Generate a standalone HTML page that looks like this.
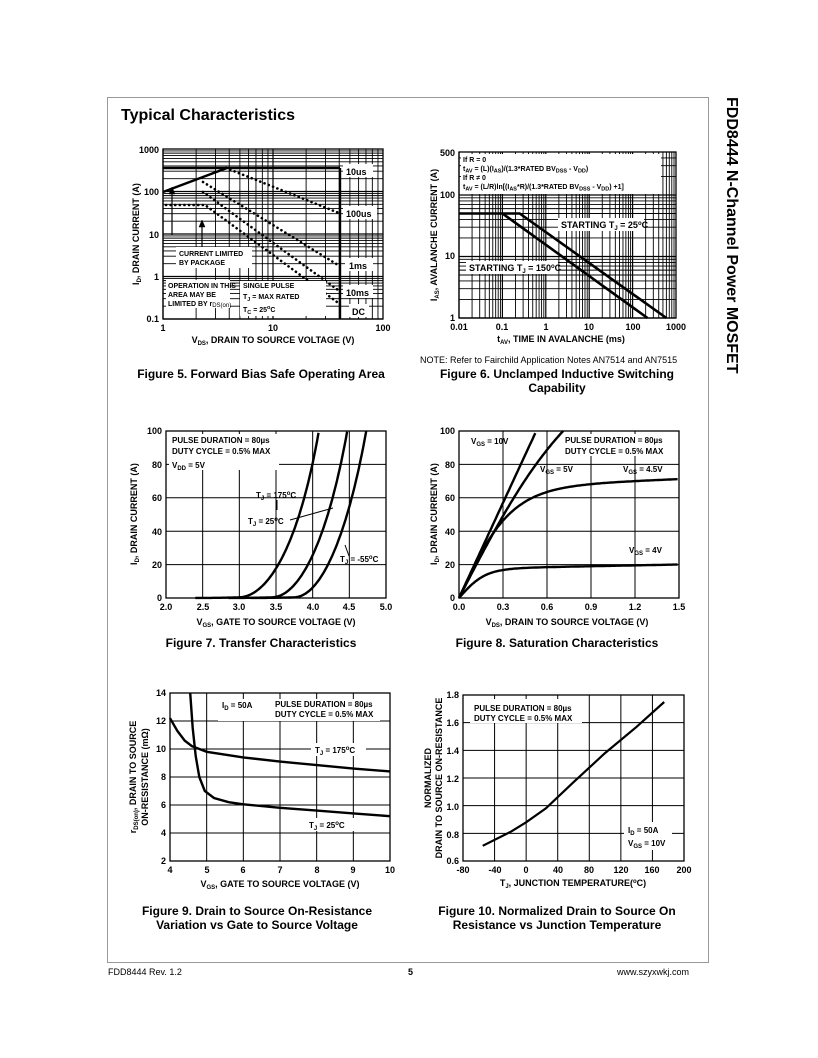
<!DOCTYPE html>
<html><head><meta charset="utf-8">
<style>
html,body{margin:0;padding:0;background:#fff;}
svg{display:block;font-family:"Liberation Sans",Arial,sans-serif;}
.t{font-size:9px;font-weight:bold;}
.s{font-size:8px;font-weight:bold;}
.xs{font-size:7px;font-weight:bold;}
.cap{font-size:12px;font-weight:bold;}
</style></head><body>
<svg id="svg" width="818" height="1058" viewBox="0 0 818 1058" xmlns="http://www.w3.org/2000/svg">
<rect x="107.5" y="97.5" width="601" height="865" fill="none" stroke="#999" stroke-width="1"/>
<text x="727" y="97" transform="rotate(90 727 97)" font-size="16" font-weight="bold" dy="0">FDD8444 N-Channel Power MOSFET</text>
<text x="121" y="120" font-size="16" font-weight="bold">Typical Characteristics</text>

<g id="grid" stroke="#000" fill="none"></g>
<g id="curves" stroke="#000" fill="none"></g>

<!-- Fig5 labels -->
<g class="t" text-anchor="end">
<text x="159" y="153">1000</text><text x="159" y="195">100</text><text x="159" y="238">10</text>
<text x="159" y="280">1</text><text x="159" y="322">0.1</text>
</g>
<g class="t" text-anchor="middle">
<text x="163" y="331">1</text><text x="273" y="331">10</text><text x="383" y="331">100</text>
</g>
<text class="t" x="273" y="343" text-anchor="middle">V<tspan font-size="6" dy="2">DS</tspan><tspan dy="-2">, DRAIN TO SOURCE VOLTAGE (V)</tspan></text>
<text class="t" x="139" y="234" text-anchor="middle" transform="rotate(-90 139 234)">I<tspan font-size="6" dy="2">D</tspan><tspan dy="-2">, DRAIN CURRENT (A)</tspan></text>
<text class="cap" x="261" y="378" text-anchor="middle">Figure 5.  Forward Bias Safe Operating Area</text>

<!-- Fig6 labels -->
<g class="t" text-anchor="end">
<text x="455" y="156">500</text><text x="455" y="198">100</text><text x="455" y="259">10</text><text x="455" y="321">1</text>
</g>
<g class="t" text-anchor="middle">
<text x="459" y="330">0.01</text><text x="502" y="330">0.1</text><text x="546" y="330">1</text>
<text x="589" y="330">10</text><text x="633" y="330">100</text><text x="676" y="330">1000</text>
</g>
<text class="t" x="561" y="342" text-anchor="middle">t<tspan font-size="6" dy="2">AV</tspan><tspan dy="-2">, TIME IN AVALANCHE (ms)</tspan></text>
<text class="t" x="437" y="235" text-anchor="middle" transform="rotate(-90 437 235)">I<tspan font-size="6" dy="2">AS</tspan><tspan dy="-2">, AVALANCHE CURRENT (A)</tspan></text>
<text x="420" y="363" font-size="9">NOTE: Refer to Fairchild Application Notes AN7514 and AN7515</text>
<text class="cap" x="557" y="378" text-anchor="middle">Figure 6.  Unclamped Inductive Switching</text>
<text class="cap" x="557" y="392" text-anchor="middle">Capability</text>

<!-- Fig7 labels -->
<g class="t" text-anchor="end">
<text x="162" y="434">100</text><text x="162" y="468">80</text><text x="162" y="501">60</text>
<text x="162" y="535">40</text><text x="162" y="568">20</text><text x="162" y="601">0</text>
</g>
<g class="t" text-anchor="middle">
<text x="166" y="610">2.0</text><text x="203" y="610">2.5</text><text x="239" y="610">3.0</text><text x="276" y="610">3.5</text>
<text x="313" y="610">4.0</text><text x="349" y="610">4.5</text><text x="386" y="610">5.0</text>
</g>
<text class="t" x="276" y="625" text-anchor="middle">V<tspan font-size="6" dy="2">GS</tspan><tspan dy="-2">, GATE TO SOURCE VOLTAGE (V)</tspan></text>
<text class="t" x="137" y="514" text-anchor="middle" transform="rotate(-90 137 514)">I<tspan font-size="6" dy="2">D</tspan><tspan dy="-2">, DRAIN CURRENT (A)</tspan></text>
<text class="cap" x="261" y="647" text-anchor="middle">Figure 7.  Transfer Characteristics</text>

<!-- Fig8 labels -->
<g class="t" text-anchor="end">
<text x="455" y="434">100</text><text x="455" y="468">80</text><text x="455" y="501">60</text>
<text x="455" y="535">40</text><text x="455" y="568">20</text><text x="455" y="601">0</text>
</g>
<g class="t" text-anchor="middle">
<text x="459" y="610">0.0</text><text x="503" y="610">0.3</text><text x="547" y="610">0.6</text>
<text x="591" y="610">0.9</text><text x="635" y="610">1.2</text><text x="679" y="610">1.5</text>
</g>
<text class="t" x="567" y="625" text-anchor="middle">V<tspan font-size="6" dy="2">DS</tspan><tspan dy="-2">, DRAIN TO SOURCE VOLTAGE (V)</tspan></text>
<text class="t" x="437" y="514" text-anchor="middle" transform="rotate(-90 437 514)">I<tspan font-size="6" dy="2">D</tspan><tspan dy="-2">, DRAIN CURRENT (A)</tspan></text>
<text class="cap" x="557" y="647" text-anchor="middle">Figure 8.  Saturation Characteristics</text>

<!-- Fig9 labels -->
<g class="t" text-anchor="end">
<text x="166" y="696">14</text><text x="166" y="724">12</text><text x="166" y="752">10</text><text x="166" y="780">8</text>
<text x="166" y="808">6</text><text x="166" y="836">4</text><text x="166" y="864">2</text>
</g>
<g class="t" text-anchor="middle">
<text x="170" y="873">4</text><text x="207" y="873">5</text><text x="243" y="873">6</text><text x="280" y="873">7</text>
<text x="317" y="873">8</text><text x="353" y="873">9</text><text x="390" y="873">10</text>
</g>
<text class="t" x="280" y="887" text-anchor="middle">V<tspan font-size="6" dy="2">GS</tspan><tspan dy="-2">, GATE TO SOURCE VOLTAGE (V)</tspan></text>
<text class="t" x="136" y="777" text-anchor="middle" transform="rotate(-90 136 777)">r<tspan font-size="6" dy="2">DS(on)</tspan><tspan dy="-2">, DRAIN TO SOURCE</tspan></text>
<text class="t" x="148" y="777" text-anchor="middle" transform="rotate(-90 148 777)">ON-RESISTANCE (mΩ)</text>
<text class="cap" x="257" y="915" text-anchor="middle">Figure 9.  Drain to Source On-Resistance</text>
<text class="cap" x="257" y="929" text-anchor="middle">Variation vs Gate to Source Voltage</text>

<!-- Fig10 labels -->
<g class="t" text-anchor="end">
<text x="459" y="698">1.8</text><text x="459" y="726">1.6</text><text x="459" y="754">1.4</text><text x="459" y="782">1.2</text>
<text x="459" y="810">1.0</text><text x="459" y="838">0.8</text><text x="459" y="864">0.6</text>
</g>
<g class="t" text-anchor="middle">
<text x="463" y="873">-80</text><text x="495" y="873">-40</text><text x="526" y="873">0</text><text x="558" y="873">40</text>
<text x="589" y="873">80</text><text x="621" y="873">120</text><text x="652" y="873">160</text><text x="684" y="873">200</text>
</g>
<text class="t" x="573" y="886" text-anchor="middle">T<tspan font-size="6" dy="2">J</tspan><tspan dy="-2">, JUNCTION TEMPERATURE(</tspan><tspan font-size="6" dy="-3">o</tspan><tspan dy="3">C)</tspan></text>
<text class="t" x="431" y="778" text-anchor="middle" transform="rotate(-90 431 778)">NORMALIZED</text>
<text class="t" x="442" y="778" text-anchor="middle" transform="rotate(-90 442 778)">DRAIN TO SOURCE ON-RESISTANCE</text>
<text class="cap" x="557" y="915" text-anchor="middle">Figure 10.  Normalized Drain to Source On</text>
<text class="cap" x="557" y="929" text-anchor="middle">Resistance vs Junction Temperature</text>

<text x="108" y="975" font-size="9">FDD8444 Rev. 1.2</text>
<text x="408" y="975" font-size="9" font-weight="bold">5</text>
<text x="689" y="975" font-size="9" text-anchor="end">www.szyxwkj.com</text>

<g id="overlay"></g>
</svg>
<script>
var NS="http://www.w3.org/2000/svg";
function el(par,tag,a){var e=document.createElementNS(NS,tag);for(var k in a)e.setAttribute(k,a[k]);document.getElementById(par).appendChild(e);return e;}
function ln(par,x1,y1,x2,y2,w,extra){var a={x1:x1,y1:y1,x2:x2,y2:y2,"stroke-width":w||1};for(var k in extra)a[k]=extra[k];return el(par,"line",a);}
function frame(x0,y0,x1,y1){el("grid","rect",{x:x0,y:y0,width:x1-x0,height:y1-y0,"stroke-width":1.3});}
function poly(pts,w,extra){var d=pts.map(function(p,i){return (i?"L":"M")+p[0].toFixed(1)+" "+p[1].toFixed(1);}).join("");var a={d:d,"stroke-width":w||2.2};for(var k in extra)a[k]=extra[k];el("curves","path",a);}
function L10(v){return Math.log(v)/Math.LN10;}
var OV=function(s){document.getElementById("overlay").insertAdjacentHTML("beforeend",s);};
// Fig5
(function(){var X=function(v){return 163+L10(v)*110},Y=function(v){return 319-(L10(v)+1)*42.5};
for(var d=1;d<100;d*=10)for(var m=1;m<10;m++)ln("grid",X(d*m),149,X(d*m),319,m==1?1.2:0.9);
for(var d=0.1;d<1000;d*=10)for(var m=1;m<10;m++)ln("grid",163,Y(d*m),383,Y(d*m),m==1?1.2:0.9);
frame(163,149,383,319);
[[176,247,76,21],[166,280,64,28],[240,281,86,35],[343,164,30,13],[343,206,34,13],[345,258,28,13],[343,285,30,13],[349,304,20,13]].forEach(function(b){el("overlay","rect",{x:b[0],y:b[1],width:b[2],height:b[3],fill:"#fff"});});
OV('<text class="xs" x="179" y="256">CURRENT LIMITED</text><text class="xs" x="179" y="265">BY PACKAGE</text>'+
'<text class="xs" x="168" y="288">OPERATION IN THIS</text><text class="xs" x="168" y="297">AREA MAY BE</text><text class="xs" x="168" y="306">LIMITED BY r<tspan font-size="6" font-weight="normal" dy="1">DS(on)</tspan></text>'+
'<text class="xs" x="243" y="288">SINGLE PULSE</text>'+
'<text class="xs" x="243" y="299">T<tspan font-size="5.5" dy="2">J</tspan><tspan dy="-2"> = MAX RATED</tspan></text>'+
'<text class="xs" x="243" y="312">T<tspan font-size="5.5" dy="2">C</tspan><tspan dy="-2"> = 25</tspan><tspan font-size="5.5" dy="-3">o</tspan><tspan dy="3">C</tspan></text>'+
'<text class="t" x="346" y="175">10us</text><text class="t" x="346" y="217">100us</text><text class="t" x="349" y="269">1ms</text><text class="t" x="346" y="296">10ms</text><text class="t" x="352" y="315">DC</text>');
poly([[163,192],[227,168],[340,168]],2.4);ln("curves",163,168,227,168,2.4);ln("curves",340,168,340,319,2.4);
var dot={"stroke-dasharray":"0.1 4.5","stroke-linecap":"round","stroke-width":2.6};
poly([[226,168],[339,213]],2.6,dot);poly([[203,182],[338,265]],2.6,dot);poly([[203,192],[338,290]],2.6,dot);
poly([[166,205],[205,205],[337,302]],2.6,dot);
ln("curves",172,235,172,190,1.2);ln("curves",202,250,202,223,1.2);
el("curves","path",{d:"M169 194 L172 187 L175 194Z",fill:"#000","stroke-width":0.5});
el("curves","path",{d:"M199 227 L202 220 L205 227Z",fill:"#000","stroke-width":0.5});
})();
// Fig6
(function(){var X=function(v){return 459+(L10(v)+2)*43.4},Y=function(v){return 152+(L10(500)-L10(v))*61.5};
for(var d=0.01;d<1000;d*=10)for(var m=1;m<10;m++)ln("grid",X(d*m),152,X(d*m),318,m==1?1.2:0.9);
for(var d=1;d<1000;d*=10)for(var m=1;m<10;m++){var v=d*m;if(v>500)break;ln("grid",459,Y(v),676,Y(v),m==1?1.2:0.9);}
frame(459,152,676,318);
el("overlay","rect",{x:461,y:154,width:200,height:40,fill:"#fff"});
el("overlay","rect",{x:558,y:218,width:86,height:13,fill:"#fff"});
el("overlay","rect",{x:466,y:261,width:92,height:13,fill:"#fff"});
poly([[459,Y(50)],[X(0.25),Y(50)],[X(600),Y(1)]],2.6);
poly([[X(0.1),Y(50)],[X(220),Y(1)]],2.6);
OV('<text class="xs" x="463" y="162">If R = 0</text>'+
'<text class="xs" x="463" y="171">t<tspan font-size="5.5" dy="1.5">AV</tspan><tspan dy="-1.5"> = (L)(I</tspan><tspan font-size="5.5" dy="1.5">AS</tspan><tspan dy="-1.5">)/(1.3*RATED BV</tspan><tspan font-size="5.5" dy="1.5">DSS</tspan><tspan dy="-1.5"> - V</tspan><tspan font-size="5.5" dy="1.5">DD</tspan><tspan dy="-1.5">)</tspan></text>'+
'<text class="xs" x="463" y="180">If R ≠ 0</text>'+
'<text class="xs" x="463" y="189">t<tspan font-size="5.5" dy="1.5">AV</tspan><tspan dy="-1.5"> = (L/R)ln[(I</tspan><tspan font-size="5.5" dy="1.5">AS</tspan><tspan dy="-1.5">*R)/(1.3*RATED BV</tspan><tspan font-size="5.5" dy="1.5">DSS</tspan><tspan dy="-1.5"> - V</tspan><tspan font-size="5.5" dy="1.5">DD</tspan><tspan dy="-1.5">) +1]</tspan></text>'+
'<text class="t" x="561" y="228">STARTING T<tspan font-size="6" dy="2">J</tspan><tspan dy="-2"> = 25</tspan><tspan font-size="6" dy="-3">o</tspan><tspan dy="3">C</tspan></text>'+
'<text class="t" x="469" y="271">STARTING T<tspan font-size="6" dy="2">J</tspan><tspan dy="-2"> = 150</tspan><tspan font-size="6" dy="-3">o</tspan><tspan dy="3">C</tspan></text>');
})();
function lin(x0,y0,x1,y1,nx,ny){for(var i=0;i<=nx;i++){var x=x0+(x1-x0)*i/nx;ln("grid",x,y0,x,y1,1);}for(var j=0;j<=ny;j++){var y=y0+(y1-y0)*j/ny;ln("grid",x0,y,x1,y,1);}frame(x0,y0,x1,y1);}
// Fig7
(function(){lin(166,431,386,598,6,5);var X=function(v){return 166+(v-2)*73.33},Y=function(v){return 598-v*1.67};
[[3.0,59],[3.45,73],[3.75,83]].forEach(function(c){var p=[];for(var v=c[0]-0.6;v<=5;v+=0.02){var d=Math.max(0,v-c[0]);var I=c[1]*d*d+0.4*Math.exp((v-c[0])*4);if(I>100.5)break;p.push([X(v),Y(I)]);}poly(p,2.4);});
el("overlay","rect",{x:169,y:434,width:110,height:36,fill:"#fff"});
OV('<text class="s" x="172" y="443">PULSE DURATION = 80µs</text><text class="s" x="172" y="454">DUTY CYCLE = 0.5% MAX</text>'+
'<text class="s" x="172" y="468">V<tspan font-size="6" dy="2">DD</tspan><tspan dy="-2"> = 5V</tspan></text>'+
'<text class="s" x="256" y="498">T<tspan font-size="6" dy="2">J</tspan><tspan dy="-2"> = 175</tspan><tspan font-size="6" dy="-3">o</tspan><tspan dy="3">C</tspan></text>'+
'<text class="s" x="248" y="524">T<tspan font-size="6" dy="2">J</tspan><tspan dy="-2"> = 25</tspan><tspan font-size="6" dy="-3">o</tspan><tspan dy="3">C</tspan></text>'+
'<text class="s" x="340" y="562">T<tspan font-size="6" dy="2">J</tspan><tspan dy="-2"> = -55</tspan><tspan font-size="6" dy="-3">o</tspan><tspan dy="3">C</tspan></text>');
ln("curves",277,500,277,510,1);ln("curves",290,520,333,508,1);ln("curves",349,556,345,545,1);
})();
// Fig8
(function(){lin(459,431,679,598,5,5);var X=function(v){return 459+v*146.7},Y=function(v){return 598-v*1.67};
function cur(g,Is,sl){var p=[];for(var v=0;v<=1.5;v+=0.01){var I=(Is+sl*v)*Math.tanh(v*g/(Is+sl*v));if(I>100.5)break;p.push([X(v),Y(I)]);}poly(p,2.4);}
cur(190,2000,0);cur(170,150,0);cur(190,66,3.5);cur(100,17.5,1.7);
el("overlay","rect",{x:562,y:434,width:108,height:22,fill:"#fff"});
OV('<text class="s" x="565" y="443">PULSE DURATION = 80µs</text><text class="s" x="565" y="454">DUTY CYCLE = 0.5% MAX</text>'+
'<text class="s" x="471" y="444">V<tspan font-size="6" dy="2">GS</tspan><tspan dy="-2"> = 10V</tspan></text>'+
'<text class="s" x="540" y="472">V<tspan font-size="6" dy="2">GS</tspan><tspan dy="-2"> = 5V</tspan></text>'+
'<text class="s" x="623" y="472">V<tspan font-size="6" dy="2">GS</tspan><tspan dy="-2"> = 4.5V</tspan></text>'+
'<text class="s" x="629" y="553">V<tspan font-size="6" dy="2">GS</tspan><tspan dy="-2"> = 4V</tspan></text>');
})();
// Fig9
(function(){lin(170,693,390,861,6,6);var X=function(v){return 170+(v-4)*36.67},Y=function(v){return 861-(v-2)*14};
var a=[[4,12.2],[4.2,11.3],[4.4,10.6],[4.6,10.2],[5,9.8],[6,9.4],[7,9.1],[8,8.85],[9,8.6],[10,8.4]];
var b=[[4.55,14],[4.62,11.5],[4.7,9.5],[4.8,8],[4.95,7],[5.2,6.5],[5.6,6.2],[6,6.05],[7,5.8],[8,5.6],[9,5.4],[10,5.2]];
poly(a.map(function(p){return[X(p[0]),Y(p[1])]}),2.4);poly(b.map(function(p){return[X(p[0]),Y(p[1])]}),2.4);
el("overlay","rect",{x:218,y:699,width:162,height:22,fill:"#fff"});
el("overlay","rect",{x:311,y:743,width:55,height:13,fill:"#fff"});
el("overlay","rect",{x:305,y:818,width:50,height:13,fill:"#fff"});
OV('<text class="s" x="222" y="708">I<tspan font-size="6" dy="2">D</tspan><tspan dy="-2"> = 50A</tspan></text>'+
'<text class="s" x="275" y="707">PULSE DURATION = 80µs</text><text class="s" x="275" y="717">DUTY CYCLE = 0.5% MAX</text>'+
'<text class="s" x="315" y="753">T<tspan font-size="6" dy="2">J</tspan><tspan dy="-2"> = 175</tspan><tspan font-size="6" dy="-3">o</tspan><tspan dy="3">C</tspan></text>'+
'<text class="s" x="309" y="828">T<tspan font-size="6" dy="2">J</tspan><tspan dy="-2"> = 25</tspan><tspan font-size="6" dy="-3">o</tspan><tspan dy="3">C</tspan></text>');
})();
// Fig10
(function(){lin(463,695,684,861,7,6);var X=function(v){return 463+(v+80)*0.789},Y=function(v){return 861-(v-0.6)*138.3};
var p=[[-55,0.71],[-20,0.81],[0,0.88],[25,0.98],[60,1.17],[100,1.38],[140,1.57],[175,1.75]];
poly(p.map(function(q){return[X(q[0]),Y(q[1])]}),2.2);
el("overlay","rect",{x:470,y:699,width:112,height:24,fill:"#fff"});
el("overlay","rect",{x:624,y:822,width:48,height:28,fill:"#fff"});
OV('<text class="s" x="474" y="711">PULSE DURATION = 80µs</text><text class="s" x="474" y="721">DUTY CYCLE = 0.5% MAX</text>'+
'<text class="s" x="628" y="833">I<tspan font-size="6" dy="2">D</tspan><tspan dy="-2"> = 50A</tspan></text>'+
'<text class="s" x="628" y="846">V<tspan font-size="6" dy="2">GS</tspan><tspan dy="-2"> = 10V</tspan></text>');
})();
</script>
</body></html>
